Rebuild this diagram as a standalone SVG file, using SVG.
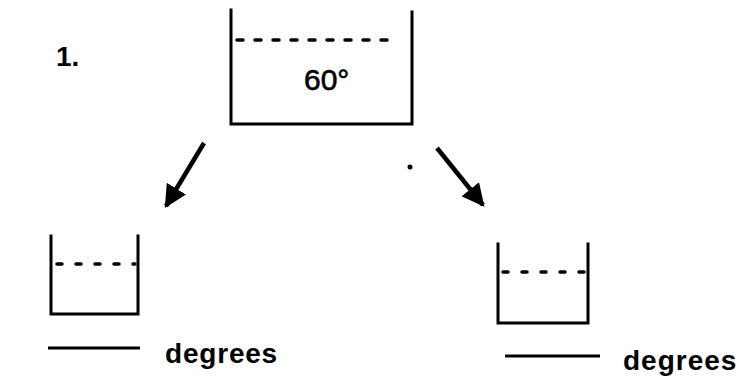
<svg xmlns="http://www.w3.org/2000/svg" width="749" height="380" viewBox="0 0 749 380">
  <style>
    .wall { fill: none; stroke: #000; stroke-width: 3; stroke-linecap: square; }
    .level { fill: none; stroke: #000; stroke-width: 3.5; stroke-linecap: round; }
    .blank { stroke: #000; stroke-width: 3; }
    .lbl { font-family: "Liberation Sans", Arial, sans-serif; fill: #000; }
    .arrow { stroke: #000; stroke-width: 4.5; fill: none; }
  </style>
  <defs>
    <marker id="head" viewBox="0 0 10 10" refX="9" refY="5" markerWidth="5" markerHeight="5" markerUnits="strokeWidth" orient="auto">
      <path d="M0,0 L10,5 L0,10 Z" fill="#000"/>
    </marker>
  </defs>
  <rect width="749" height="380" fill="#fff"/>

  <text class="lbl" x="56" y="66" font-size="28" font-weight="bold">1.</text>

  <g id="beaker-top">
    <path class="wall" d="M231,10 L231,124 L412,124 L412,12"/>
    <path class="level" d="M237,40 L397,40" stroke-dasharray="6,12"/>
    <text class="lbl" x="304" y="90" font-size="30" stroke="#000" stroke-width="0.6">60°</text>
  </g>

  <g id="beaker-left">
    <path class="wall" d="M51,236 L51,314 L138,314 L138,236"/>
    <path class="level" d="M57,264 L135,264" stroke-dasharray="5,14"/>
    <line class="blank" x1="48" y1="348" x2="140" y2="348"/>
    <text class="lbl" x="165" y="363" font-size="28" font-weight="bold" letter-spacing="0.8">degrees</text>
  </g>

  <g id="beaker-right">
    <path class="wall" d="M498,244 L498,323 L588,323 L588,244"/>
    <path class="level" d="M503,272 L585,272" stroke-dasharray="5,14"/>
    <line class="blank" x1="505" y1="356" x2="600" y2="356"/>
    <text class="lbl" x="623" y="370" font-size="28" font-weight="bold" letter-spacing="1">degrees</text>
  </g>

  <g id="connectors">
    <line class="arrow" x1="204" y1="143" x2="166" y2="206" marker-end="url(#head)"/>
    <line class="arrow" x1="437" y1="148" x2="483" y2="205" marker-end="url(#head)"/>
  </g>
  <circle cx="410" cy="167" r="2.5" fill="#000"/>
</svg>
